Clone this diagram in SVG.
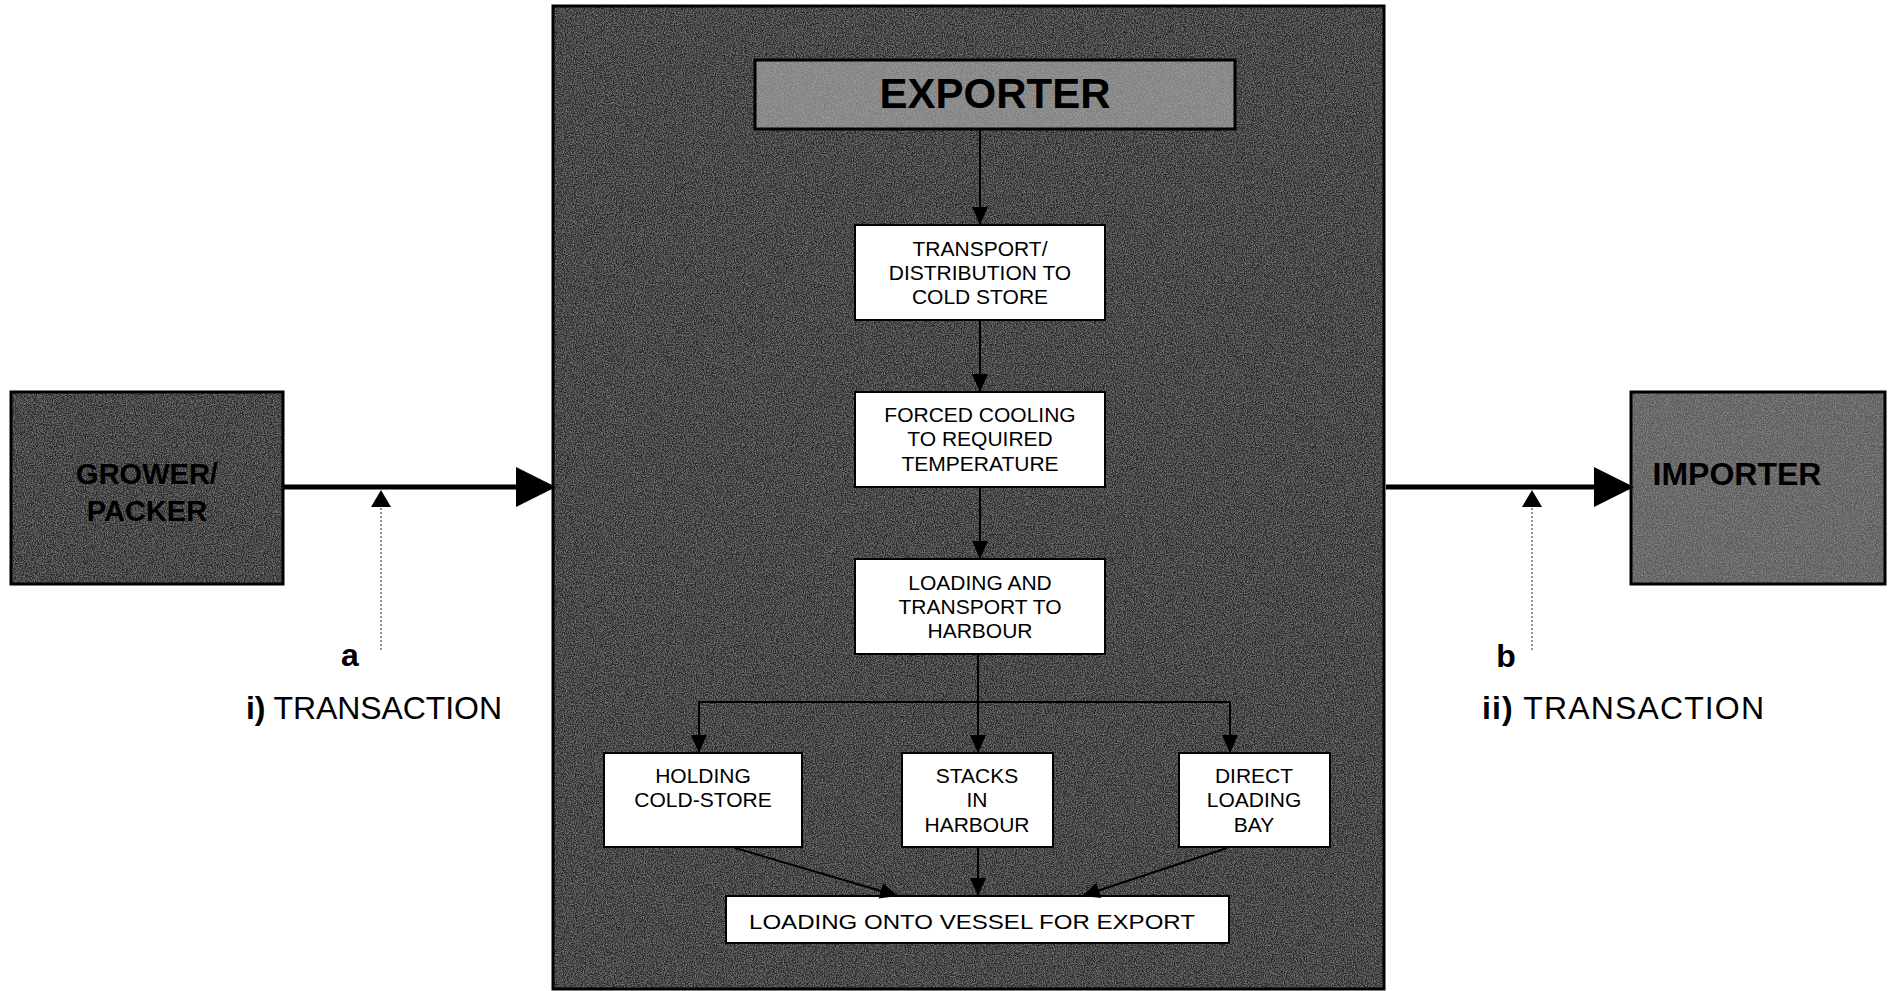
<svg xmlns="http://www.w3.org/2000/svg" width="1889" height="991" viewBox="0 0 1889 991">
<style>
  .bg{fill:#ffffff}
  .dark{fill:#2a2a2a}
  .imp{fill:#5a5a5a}
  .hdr{fill:#808080}
  .frame{fill:none;stroke:#000;stroke-width:3}
  .box{fill:#ffffff;stroke:#000;stroke-width:2}
  .big{font-family:"Liberation Sans",Arial,sans-serif;font-weight:bold;fill:#000;text-anchor:middle}
  .t{font-family:"Liberation Sans",Arial,sans-serif;font-size:21px;fill:#000;text-anchor:middle}
  .lbl{font-family:"Liberation Sans",Arial,sans-serif;font-size:32px;fill:#000}
  .thick{stroke:#000;stroke-width:5;fill:none}
  .thin{stroke:#000;stroke-width:2;fill:none}
  .dot{stroke:#777;stroke-width:1.6;stroke-dasharray:2 2;fill:none}
</style>
<defs>
  <filter id="grain" x="0" y="0" width="100%" height="100%">
    <feTurbulence type="fractalNoise" baseFrequency="0.9" numOctaves="2" seed="4" result="n"/>
    <feColorMatrix in="n" type="matrix" values="0 0 0 0 1  0 0 0 0 1  0 0 0 0 1  0.4 0 0 0 -0.15" result="w"/>
    <feComposite in="w" in2="SourceGraphic" operator="in" result="wn"/>
    <feMerge><feMergeNode in="SourceGraphic"/><feMergeNode in="wn"/></feMerge>
  </filter>
  <marker id="bigHead" markerWidth="8" markerHeight="8" refX="7" refY="4" orient="auto" markerUnits="strokeWidth" viewBox="0 0 8 8">
    <path d="M0,0 L8,4 L0,8 Z" fill="#000"/>
  </marker>
  <marker id="smallHead" markerWidth="9" markerHeight="9" refX="9" refY="4" orient="auto" markerUnits="strokeWidth" viewBox="0 0 9 8">
    <path d="M0,0 L9,4 L0,8 Z" fill="#000"/>
  </marker>
</defs>
<rect class="bg" x="0" y="0" width="1889" height="991"/>

<g id="grower">
  <rect class="dark" x="11" y="392" width="272" height="192" filter="url(#grain)"/>
  <rect class="frame" x="11" y="392" width="272" height="192" stroke-width="2"/>
  <text class="big" font-size="29" x="147" y="484">GROWER/</text>
  <text class="big" font-size="29" x="147" y="521">PACKER</text>
</g>

<g id="exporter-panel">
  <rect class="dark" x="553" y="6" width="831" height="983" filter="url(#grain)"/>
  <rect class="frame" x="553" y="6" width="831" height="983"/>
</g>

<g id="exporter">
  <rect class="hdr" x="755" y="60" width="480" height="69" filter="url(#grain)"/>
  <rect class="frame" x="755" y="60" width="480" height="69" stroke-width="2"/>
  <text class="big" font-size="42" x="995" y="108">EXPORTER</text>
</g>

<g id="importer">
  <rect class="imp" x="1631" y="392" width="254" height="192" filter="url(#grain)"/>
  <rect class="frame" x="1631" y="392" width="254" height="192" stroke-width="2"/>
  <text class="big" font-size="32" x="1737" y="485">IMPORTER</text>
</g>

<g id="transport">
  <rect class="box" x="855" y="225" width="250" height="95"/>
  <text class="t" x="980" y="256">TRANSPORT/</text>
  <text class="t" x="980" y="280">DISTRIBUTION TO</text>
  <text class="t" x="980" y="304">COLD STORE</text>
</g>

<g id="cooling">
  <rect class="box" x="855" y="392" width="250" height="95"/>
  <text class="t" x="980" y="422">FORCED COOLING</text>
  <text class="t" x="980" y="446">TO REQUIRED</text>
  <text class="t" x="980" y="471">TEMPERATURE</text>
</g>

<g id="loading">
  <rect class="box" x="855" y="559" width="250" height="95"/>
  <text class="t" x="980" y="590">LOADING AND</text>
  <text class="t" x="980" y="614">TRANSPORT TO</text>
  <text class="t" x="980" y="638">HARBOUR</text>
</g>

<g id="holding">
  <rect class="box" x="604" y="753" width="198" height="94"/>
  <text class="t" x="703" y="783">HOLDING</text>
  <text class="t" x="703" y="807">COLD-STORE</text>
</g>

<g id="stacks">
  <rect class="box" x="902" y="753" width="151" height="94"/>
  <text class="t" x="977" y="783">STACKS</text>
  <text class="t" x="977" y="807">IN</text>
  <text class="t" x="977" y="832">HARBOUR</text>
</g>

<g id="direct">
  <rect class="box" x="1179" y="753" width="151" height="94"/>
  <text class="t" x="1254" y="783">DIRECT</text>
  <text class="t" x="1254" y="807">LOADING</text>
  <text class="t" x="1254" y="832">BAY</text>
</g>

<g id="vessel">
  <rect class="box" x="726" y="896" width="503" height="47"/>
  <text class="t" font-size="25" x="972" y="929" textLength="446" lengthAdjust="spacingAndGlyphs">LOADING ONTO VESSEL FOR EXPORT</text>
</g>

<g id="labels">
  <text class="lbl" font-weight="bold" font-size="29" x="350" y="666" text-anchor="middle">a</text>
  <text class="lbl" x="246" y="719" textLength="256"><tspan font-weight="bold">i)</tspan> TRANSACTION</text>
  <text class="lbl" font-weight="bold" font-size="29" x="1506" y="667" text-anchor="middle">b</text>
  <text class="lbl" x="1482" y="719" textLength="282"><tspan font-weight="bold">ii)</tspan> TRANSACTION</text>
</g>

<g id="connectors">
  <line class="thick" x1="283" y1="487" x2="551" y2="487" marker-end="url(#bigHead)"/>
  <line class="thick" x1="1386" y1="487" x2="1629" y2="487" marker-end="url(#bigHead)"/>
  <line class="dot" x1="381" y1="650" x2="381" y2="506"/>
  <path d="M381,490 L391,507 L371,507 Z" fill="#000"/>
  <line class="dot" x1="1532" y1="650" x2="1532" y2="506"/>
  <path d="M1532,490 L1542,507 L1522,507 Z" fill="#000"/>

  <line class="thin" x1="980" y1="129" x2="980" y2="225" marker-end="url(#smallHead)"/>
  <line class="thin" x1="980" y1="320" x2="980" y2="392" marker-end="url(#smallHead)"/>
  <line class="thin" x1="980" y1="487" x2="980" y2="559" marker-end="url(#smallHead)"/>
  <line class="thin" x1="978" y1="654" x2="978" y2="702"/>
  <line class="thin" x1="699" y1="702" x2="1230" y2="702"/>
  <line class="thin" x1="699" y1="701" x2="699" y2="753" marker-end="url(#smallHead)"/>
  <line class="thin" x1="978" y1="702" x2="978" y2="753" marker-end="url(#smallHead)"/>
  <line class="thin" x1="1230" y1="701" x2="1230" y2="753" marker-end="url(#smallHead)"/>
  <line class="thin" x1="735" y1="848" x2="898" y2="896" marker-end="url(#smallHead)"/>
  <line class="thin" x1="978" y1="847" x2="978" y2="896" marker-end="url(#smallHead)"/>
  <line class="thin" x1="1227" y1="848" x2="1082" y2="896" marker-end="url(#smallHead)"/>
</g>
</svg>
